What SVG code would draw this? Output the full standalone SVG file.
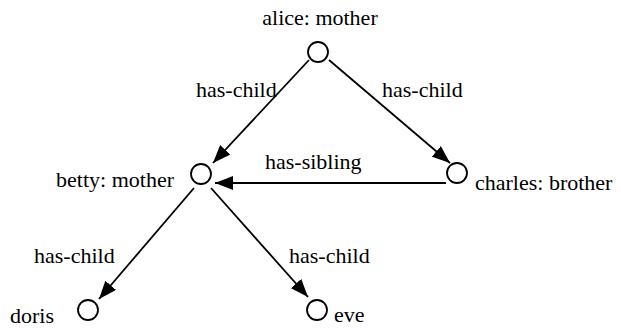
<svg xmlns="http://www.w3.org/2000/svg" width="621" height="328" viewBox="0 0 621 328">
<style>
text{font-family:"Liberation Serif","Times New Roman",serif;font-size:22px;fill:#000}
.n{fill:#fff;stroke:#000;stroke-width:1.8}
.e{stroke:#000;stroke-width:1.8;fill:none}
</style>
<defs>
<marker id="arr" viewBox="0 0 18 14" refX="18" refY="7" markerWidth="18" markerHeight="14" markerUnits="userSpaceOnUse" orient="auto">
<path d="M0,0 L18,7 L0,14 z" fill="#000"/>
</marker>
</defs>
<rect width="621" height="328" fill="#fff"/>
<g id="connectors">
<line class="e" x1="309" y1="60" x2="213" y2="163" marker-end="url(#arr)"/>
<line class="e" x1="329" y1="60" x2="450" y2="163" marker-end="url(#arr)"/>
<line class="e" x1="446" y1="183" x2="215" y2="183" marker-end="url(#arr)"/>
<line class="e" x1="194" y1="188" x2="99" y2="299" marker-end="url(#arr)"/>
<line class="e" x1="211" y1="188" x2="308" y2="297" marker-end="url(#arr)"/>
<g id="labels">
<text x="196" y="97">has-child</text>
<text x="382" y="97">has-child</text>
<text x="265" y="169">has-sibling</text>
<text x="34" y="263">has-child</text>
<text x="289" y="263">has-child</text>
</g>
</g>
<g id="alice"><circle class="n" cx="318" cy="52" r="10"/><text x="320" y="25" text-anchor="middle">alice: mother</text></g>
<g id="betty"><circle class="n" cx="201" cy="174" r="10"/><text x="174" y="187" text-anchor="end">betty: mother</text></g>
<g id="charles"><circle class="n" cx="457" cy="173" r="10"/><text x="475" y="190">charles: brother</text></g>
<g id="doris"><circle class="n" cx="88" cy="310" r="10"/><text x="10" y="323">doris</text></g>
<g id="eve"><circle class="n" cx="317" cy="310" r="10"/><text x="334" y="322">eve</text></g>
</svg>
